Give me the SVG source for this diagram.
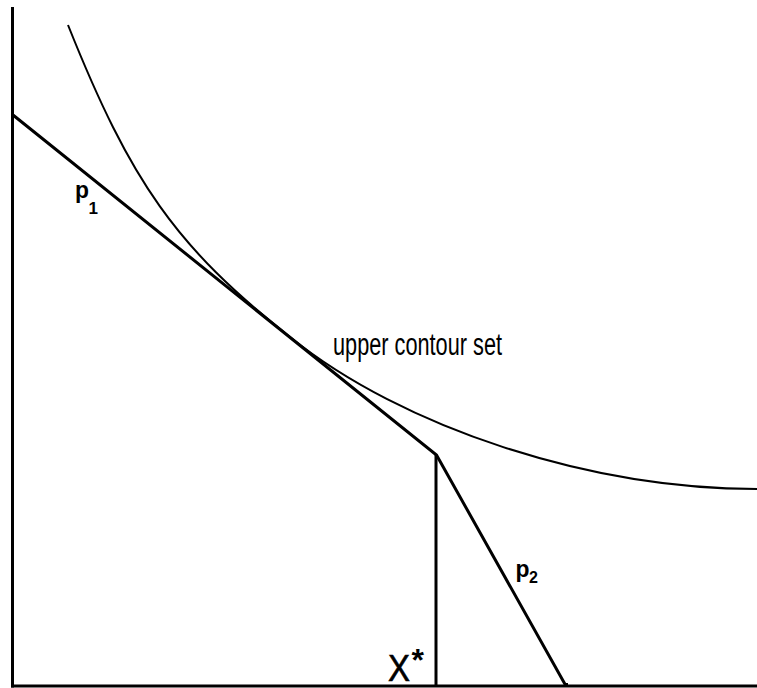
<svg xmlns="http://www.w3.org/2000/svg" width="757" height="688" viewBox="0 0 757 688">
<style>
.axis{stroke:#000;stroke-width:3;fill:none}
.budget{stroke:#000;stroke-width:3;fill:none;stroke-linejoin:miter}
.curve{stroke:#000;stroke-width:2;fill:none}
.lbl{font-family:"Liberation Sans",Arial,Helvetica,sans-serif;fill:#000}
</style>
<rect width="757" height="688" fill="#fff"/>
<g id="axes">
<line class="axis" x1="12.5" y1="7" x2="12.5" y2="687.5"/>
<line class="axis" x1="11" y1="686" x2="757" y2="686"/>
</g>
<g id="connectors">
<path id="contour" class="curve" d="M68,25 C131,182.5 175.6,246.6 290,337 C403,428 590,489 757,489"/>
<polyline id="budget" class="budget" points="13,115 436.5,455 566,686"/>
<line id="xstar-line" class="budget" x1="436" y1="455" x2="436" y2="686"/>
<line class="budget" x1="564" y1="684.5" x2="568" y2="684.5"/>
</g>
<g id="label-p1">
<text class="lbl" x="75" y="198" font-size="24" font-weight="bold" textLength="14" lengthAdjust="spacingAndGlyphs">p</text>
<text class="lbl" x="88.5" y="214" font-size="17" font-weight="bold">1</text>
</g>
<g id="label-p2">
<text class="lbl" x="515.5" y="577" font-size="24" font-weight="bold" textLength="14" lengthAdjust="spacingAndGlyphs">p</text>
<text class="lbl" x="529" y="583" font-size="16" font-weight="bold">2</text>
</g>
<g id="label-contour">
<text class="lbl" x="333" y="355" font-size="31" textLength="169" lengthAdjust="spacingAndGlyphs">upper contour set</text>
</g>
<g id="label-xstar">
<text class="lbl" x="388" y="681" font-size="37" textLength="22" lengthAdjust="spacingAndGlyphs" stroke="#000" stroke-width="0.6">X</text>
<text class="lbl" x="411.5" y="671" font-size="32" font-weight="bold">*</text>
</g>
</svg>
